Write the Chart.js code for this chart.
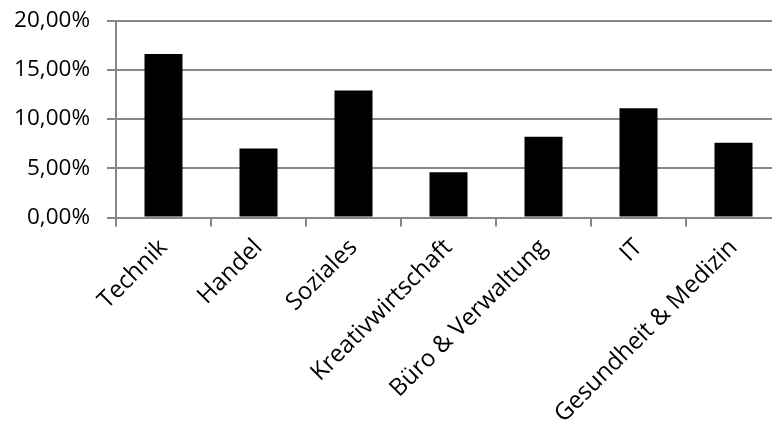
<!DOCTYPE html>
<html>
<head>
<meta charset="utf-8">
<script src="https://cdn.jsdelivr.net/npm/chart.js@4/dist/chart.umd.min.js"></script>
<style>
  html, body { margin: 0; padding: 0; background: #fff; overflow: hidden; }
  #wrap { width: 790px; height: 423px; overflow: hidden; }
  #chart { display: block; margin-top: -10px; }
</style>
</head>
<body>
<div id="wrap"><canvas id="chart" width="790" height="433"></canvas></div>
<script>
// categories and values (share in percent)
const categories = ['Technik', 'Handel', 'Soziales', 'Kreativwirtschaft', 'Büro & Verwaltung', 'IT', 'Gesundheit & Medizin'];
const shares = [16.6, 7.0, 12.9, 4.6, 8.2, 11.1, 7.6];
const yTicks = [0, 5, 10, 15, 20];

const axisGrey = '#878787';

const fmt = v => v.toFixed(2).replace('.', ',') + '%';

new Chart(document.getElementById('chart'), {
    type: 'bar',
    data: {
        labels: categories,
        datasets: [{
            data: shares,
            backgroundColor: '#000',
            categoryPercentage: 1,
            barPercentage: 0.4
        }]
    },
    options: {
        responsive: false,
        animation: false,
        layout: { padding: { top: 10, right: 9, left: 0, bottom: 0 } },
        plugins: { legend: { display: false }, tooltip: { enabled: false } },
        scales: {
            x: {
                grid: { drawOnChartArea: false, color: axisGrey, lineWidth: 2, tickLength: 9 },
                border: { color: axisGrey, width: 2 },
                ticks: { color: '#000', font: { family: 'Open Sans', size: 24 }, minRotation: 45, maxRotation: 45, padding: 7, autoSkip: false },
                afterFit: s => { s.height = 205.5; }
            },
            y: {
                min: 0,
                max: 20,
                afterBuildTicks: s => { s.ticks = yTicks.map(v => ({ value: v })); },
                grid: { color: axisGrey, lineWidth: 2, tickLength: 9 },
                border: { color: axisGrey, width: 2 },
                ticks: { color: '#000', font: { family: 'Open Sans', size: 22.5 }, padding: 17, callback: v => fmt(v) },
                afterFit: s => { s.width = 116; }
            }
        }
    }
});
</script>
</body>
</html>
